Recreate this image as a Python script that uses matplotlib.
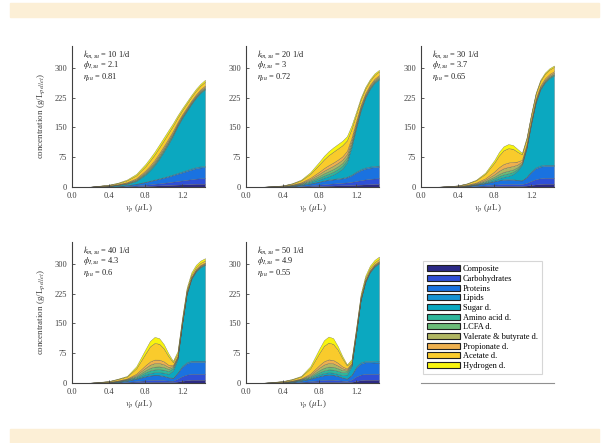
import numpy as np
import matplotlib
matplotlib.use("Agg")
import matplotlib.pyplot as plt
import matplotlib.patches as patches

plt.rcParams['font.family'] = ['Liberation Serif', 'DejaVu Serif']
plt.rcParams['mathtext.fontset'] = 'stix'

# ==========================================
# 1. Data
# ==========================================
vp = [0, 0.2, 0.4, 0.5, 0.6, 0.7, 0.8, 0.85, 0.9, 0.95, 1.0,
      1.05, 1.1, 1.15, 1.2, 1.25, 1.3, 1.35, 1.4, 1.45]

species = ['Composite', 'Carbohydrates', 'Proteins', 'Lipids', 'Sugar d.',
           'Amino acid d.', 'LCFA d.', 'Valerate & butyrate d.',
           'Propionate d.', 'Acetate d.', 'Hydrogen d.']

k_m = [10, 20, 30, 40, 50]
phi = [2.1, 3, 3.7, 4.3, 4.9]
eta = [0.81, 0.72, 0.65, 0.6, 0.55]

# one row per species, bottom to top
layers_k10 = [
    [0, 0, 0.2, 0.5, 1, 1.7, 2.5, 3, 3.5, 4, 4.5, 5, 5.5, 6, 6.5, 7, 7.5, 8, 8, 8],
    [0, 0, 0.3, 0.6, 1.2, 2, 3.2, 3.8, 4.5, 5.2, 6, 7, 8, 9, 10, 11, 12, 13, 14, 14],
    [0, 0.1, 0.6, 1.2, 2.2, 4, 6.5, 8, 9.5, 11, 12.5, 14, 16, 18, 20, 22, 24, 26, 27, 28],
    [0, 0, 0.1, 0.2, 0.4, 0.6, 1, 1.2, 1.4, 1.6, 1.8, 2, 2.2, 2.4, 2.6, 2.8, 3, 3, 3, 3],
    [0, 0.4, 1.3, 2.5, 3.2, 6.7, 17.8, 26, 36, 49, 64, 80, 97, 117, 134, 148, 162, 174, 185, 193],
    [0, 0, 0.3, 0.5, 1, 1.6, 2.4, 2.8, 3, 3.2, 3.2, 3.2, 2.9, 2.5, 2.2, 2.1, 2, 2, 2, 2],
    [0, 0, 0.3, 0.5, 1, 1.6, 2.4, 2.8, 3.1, 3.3, 3.3, 3.2, 2.9, 2.5, 2.3, 2.2, 2.1, 2.1, 2.1, 2.2],
    [0, 0.1, 0.4, 0.6, 1.1, 1.8, 2.7, 3.1, 3.4, 3.6, 3.6, 3.5, 3.2, 2.8, 2.5, 2.4, 2.3, 2.3, 2.3, 2.4],
    [0, 0.1, 0.4, 0.7, 1.3, 2.2, 3.2, 3.7, 4.1, 4.3, 4.3, 4.2, 3.8, 3.4, 3, 2.9, 2.8, 2.8, 2.8, 2.9],
    [0, 0.2, 1.4, 2.4, 4.4, 7.2, 10.8, 12.4, 13.6, 14.4, 14.4, 14, 12.8, 11.2, 10, 9.6, 9.2, 9.2, 9.2, 9.6],
    [0, 0.1, 0.7, 1.3, 2.2, 3.6, 5.5, 6.2, 6.8, 7.2, 7.2, 6.9, 6.4, 5.6, 5, 4.8, 4.6, 4.6, 4.6, 4.9],
]

layers_k20 = [
    [0, 0, 0.2, 0.5, 1, 1.7, 2.5, 3, 3.3, 3.6, 4, 4.3, 4.6, 5, 5.5, 6, 6.5, 7, 7.5, 8],
    [0, 0, 0.3, 0.7, 1.3, 2.3, 3.5, 4.2, 4.8, 5.3, 5.8, 6.3, 7, 8, 9.5, 11, 12.5, 13.5, 14, 14],
    [0, 0.1, 0.6, 1.3, 2.5, 4.5, 7, 8.5, 9.5, 10, 10.5, 11, 12.5, 16, 21, 25, 27, 28, 28.5, 29],
    [0, 0, 0.1, 0.2, 0.4, 0.7, 1.1, 1.3, 1.5, 1.6, 1.7, 1.8, 2, 2.3, 2.7, 3, 3, 3, 3, 3],
    [0, 0.4, 0.5, 0.8, 1.5, 3, 5, 6.5, 8, 11, 16, 23, 36, 69, 109, 147, 175, 195, 209, 217],
    [0, 0, 0.2, 0.6, 1.2, 2.5, 4.5, 5.5, 6.3, 6.8, 7, 7, 6.6, 5.5, 4.2, 3.3, 2.8, 2.5, 2.4, 2.4],
    [0, 0, 0.2, 0.6, 1.2, 2.5, 4.5, 5.5, 6.3, 6.8, 7, 7, 6.6, 5.5, 4.2, 3.3, 2.8, 2.5, 2.4, 2.4],
    [0, 0.1, 0.3, 0.7, 1.4, 3, 5.4, 6.6, 7.6, 8.2, 8.4, 8.4, 7.9, 6.6, 5, 4, 3.4, 3, 2.9, 2.9],
    [0, 0.1, 0.3, 0.7, 1.4, 3, 5.4, 6.6, 7.6, 8.2, 8.4, 8.4, 7.9, 6.6, 5, 4, 3.4, 3, 2.9, 2.9],
    [0, 0.2, 1, 2.4, 4.8, 10, 18, 22, 25.2, 27.2, 28, 28, 26.4, 22, 16.8, 13.2, 11.2, 10, 9.6, 9.6],
    [0, 0.1, 0.4, 1, 1.9, 4, 7.2, 8.8, 10, 10.9, 11.2, 11.2, 10.6, 8.8, 6.7, 5.3, 4.5, 4, 3.8, 3.8],
]

layers_k30 = [
    [0, 0, 0.2, 0.5, 1, 1.6, 2.3, 2.6, 2.8, 2.9, 2.9, 2.8, 2.8, 3.5, 5, 6.5, 7.5, 8, 8, 8],
    [0, 0, 0.3, 0.7, 1.4, 2.5, 3.8, 4.4, 4.8, 4.9, 4.8, 4.5, 4.5, 6.5, 10, 13, 14.5, 15, 15, 15],
    [0, 0.1, 0.6, 1.4, 2.7, 5, 8, 9.5, 10.5, 10.8, 10.5, 9.5, 9, 14, 22, 27, 29, 30, 30, 30],
    [0, 0, 0.1, 0.2, 0.4, 0.7, 1.1, 1.3, 1.4, 1.4, 1.3, 1.2, 1.2, 1.8, 2.5, 3, 3, 3, 3, 3],
    [0, 0.4, 0.4, 0.5, 0.8, 1.5, 3, 4.5, 6, 8, 12.5, 23, 38.5, 71, 118, 162, 191, 207, 218, 225],
    [0, 0, 0.2, 0.5, 1, 2, 4, 5.3, 6.2, 6.4, 5.9, 4.4, 2.4, 2.2, 2.2, 2.1, 2, 2, 2, 2],
    [0, 0, 0.2, 0.5, 1, 2, 4, 5.3, 6.2, 6.4, 5.9, 4.4, 2.4, 2.2, 2.2, 2.1, 2, 2, 2, 2],
    [0, 0.1, 0.3, 0.7, 1.4, 3, 6, 7.9, 9.2, 9.6, 8.9, 6.6, 3.6, 3.4, 3.2, 3.1, 3, 3, 3, 3],
    [0, 0.1, 0.4, 0.8, 1.7, 3.5, 7, 9.2, 10.8, 11.2, 10.4, 7.7, 4.2, 3.9, 3.8, 3.6, 3.5, 3.5, 3.5, 3.5],
    [0, 0.2, 1.1, 2.7, 5.4, 11.2, 22.5, 29.7, 34.6, 36, 33.3, 24.8, 13.5, 12.6, 12.2, 11.7, 11.2, 11.2, 11.2, 11.2],
    [0, 0.1, 0.3, 0.8, 1.6, 3.3, 6.5, 8.6, 10, 10.4, 9.6, 7.2, 3.9, 3.6, 3.5, 3.4, 3.3, 3.3, 3.3, 3.3],
]

layers_k40 = [
    [0, 0, 0.2, 0.5, 1, 1.7, 2.4, 2.7, 2.8, 2.8, 2.6, 2.3, 2.2, 3.5, 5.5, 7, 8, 8, 8, 8],
    [0, 0, 0.3, 0.7, 1.5, 2.8, 4.3, 4.9, 5.1, 5, 4.5, 3.8, 3.5, 7, 11.5, 14, 15, 15, 15, 15],
    [0, 0.1, 0.6, 1.4, 3, 5.8, 9.5, 11, 11.6, 11.3, 10, 7.8, 6.5, 14, 23, 28, 30, 30, 30, 30],
    [0, 0, 0.1, 0.2, 0.5, 0.9, 1.3, 1.5, 1.5, 1.5, 1.3, 1.1, 1, 2, 3, 3.3, 3.3, 3.3, 3.3, 3.3],
    [0, 0.3, 0.8, 1.2, 2, 1.8, 4.5, 4.9, 6, 6.4, 7.6, 8, 17.8, 33.5, 104, 171, 205, 224, 235, 241],
    [0, 0, 0.2, 0.6, 0.8, 2.3, 5, 6.5, 7.1, 7.5, 7.5, 7, 6, 2.5, 1.5, 1.4, 1.4, 1.4, 1.4, 1.4],
    [0, 0, 0.2, 0.6, 0.8, 2.3, 5, 6.5, 7.1, 7.2, 6.5, 5.5, 3.5, 2, 1.4, 1.4, 1.4, 1.4, 1.4, 1.4],
    [0, 0.1, 0.3, 0.7, 1, 2.9, 6.3, 8.1, 8.9, 8.6, 7.2, 5.2, 2.5, 2, 1.8, 1.7, 1.7, 1.7, 1.7, 1.7],
    [0, 0.1, 0.3, 0.7, 1, 2.9, 6.3, 8.1, 8.9, 8.6, 7.2, 5.2, 2.5, 2, 1.8, 1.7, 1.7, 1.7, 1.7, 1.7],
    [0, 0.3, 1.4, 3.3, 4.7, 13.6, 29.6, 38, 41.8, 39.8, 32.6, 22, 7, 6, 5.5, 5, 5, 5, 5, 5],
    [0, 0.1, 0.6, 1.1, 1.7, 5, 10.8, 13.8, 15.2, 14.3, 11, 7.1, 3.5, 5.5, 6, 5.8, 5.8, 5.8, 5.8, 5.8],
]

layers_k50 = [
    [0, 0, 0.2, 0.5, 1, 1.7, 2.4, 2.7, 2.8, 2.8, 2.6, 2.2, 2, 2.8, 5, 7, 8, 8, 8, 8],
    [0, 0, 0.3, 0.7, 1.5, 2.8, 4.4, 5, 5.3, 5.2, 4.6, 3.6, 3, 5.5, 11, 14, 15, 15, 15, 15],
    [0, 0.1, 0.6, 1.4, 3, 5.8, 9.8, 11.5, 12, 11.6, 10, 7.3, 5.5, 11, 22, 27.5, 29, 29, 28.5, 28],
    [0, 0, 0.1, 0.2, 0.5, 0.9, 1.3, 1.5, 1.5, 1.5, 1.3, 1, 0.9, 1.6, 3, 3.3, 3.3, 3.3, 3.3, 3.3],
    [0, 0.3, 0.8, 1.2, 2, 1.8, 4.1, 4.3, 5.4, 4.9, 4.5, 5.9, 9.6, 21.1, 82, 156, 198, 223, 238, 247],
    [0, 0, 0.2, 0.5, 0.8, 2.3, 5.2, 6.6, 7.2, 7.6, 7.6, 7, 6.5, 2.5, 1.4, 1.4, 1.4, 1.4, 1.4, 1.4],
    [0, 0, 0.2, 0.5, 0.8, 2.3, 5.2, 6.6, 7.2, 7.2, 6.5, 5.3, 3.8, 2, 1.4, 1.4, 1.4, 1.4, 1.4, 1.4],
    [0, 0.1, 0.3, 0.6, 1, 2.9, 6.5, 8.3, 9, 8.6, 7, 4.8, 2.6, 1.8, 1.7, 1.7, 1.7, 1.7, 1.7, 1.7],
    [0, 0.1, 0.3, 0.6, 1, 2.9, 6.5, 8.3, 9, 8.6, 7, 4.8, 2.6, 1.8, 1.7, 1.7, 1.7, 1.7, 1.7, 1.7],
    [0, 0.3, 1.4, 2.8, 4.7, 13.6, 30.5, 39, 42.3, 40.4, 32.9, 20.5, 7.5, 5, 5, 5, 5, 5, 5, 5],
    [0, 0.1, 0.6, 1.1, 1.7, 5, 11.1, 14.2, 15.3, 14.6, 9, 5.6, 3, 4.9, 5.8, 5.8, 5.8, 5.8, 5.8, 5.8],
]

panels = [layers_k10, layers_k20, layers_k30, layers_k40, layers_k50]

colors = ['#2c2a86', '#2f4fd6', '#1a72e0', '#1693d2', '#0ba8c0', '#2eb69b',
          '#6cbb78', '#b0b662', '#eeb04e', '#f9cb2c', '#f8f40f']

# ==========================================
# 2. Figure & background bands
# ==========================================
fig = plt.figure(figsize=(6.05, 4.43), dpi=100)
fig.patches.append(patches.Rectangle((10 / 605, 1 - 17 / 443), 589 / 605, 14 / 443,
                                     transform=fig.transFigure, color='#fcefd6', zorder=0))
fig.patches.append(patches.Rectangle((10 / 605, 0), 589 / 605, 14 / 443,
                                     transform=fig.transFigure, color='#fcefd6', zorder=0))

lefts = [72 / 605, 246 / 605, 421 / 605]
bottoms = [256 / 443, 60 / 443]
w, h = 133 / 605, 141 / 443

axes = []
for r in range(2):
    for c in range(3):
        axes.append(fig.add_axes([lefts[c], bottoms[r], w, h]))

# ==========================================
# 3. Stacked areas
# ==========================================
axis_col = '#404040'
for i, ax in enumerate(axes[:5]):
    ax.stackplot(vp, *panels[i], colors=colors, edgecolor='#505050', linewidth=0.2)
    ax.set_xlim(0, 1.45)
    ax.set_ylim(0, 355)
    ax.set_xticks([0, 0.4, 0.8, 1.2])
    ax.set_xticklabels(['0.0', '0.4', '0.8', '1.2'])
    ax.set_yticks([0, 75, 150, 225, 300])
    ax.tick_params(direction='in', length=2, width=0.6, labelsize=6,
                   colors=axis_col, pad=3.5)
    for s in ['top', 'right']:
        ax.spines[s].set_visible(False)
    for s in ['left', 'bottom']:
        ax.spines[s].set_color(axis_col)
        ax.spines[s].set_linewidth(0.8)
    ax.set_xlabel(r'$v_p$ ($\mu$L)', fontsize=6.5, color=axis_col, labelpad=2)
    if i % 3 == 0:
        ax.set_ylabel(r'concentration (g/L$_{pellet}$)', fontsize=6.5, color=axis_col, labelpad=5)
    ax.text(0.08, 0.985, r'$k_{m,su}$ = %d 1/d' % k_m[i], transform=ax.transAxes,
            fontsize=6, va='top', color='#202020')
    ax.text(0.08, 0.905, r'$\phi_{I,su}$ = %s' % phi[i], transform=ax.transAxes,
            fontsize=6, va='top', color='#202020')
    ax.text(0.08, 0.82, r'$\eta_{su}$ = %s' % eta[i], transform=ax.transAxes,
            fontsize=6, va='top', color='#202020')

# ==========================================
# 4. Legend in the empty sixth slot
# ==========================================
ax6 = axes[5]
ax6.set_xticks([])
ax6.set_yticks([])
for s in ['top', 'right', 'left']:
    ax6.spines[s].set_visible(False)
ax6.spines['bottom'].set_color('#909090')
ax6.patch.set_alpha(0)

handles = [patches.Patch(facecolor=c, edgecolor='#202020', linewidth=0.8) for c in colors]
leg = ax6.legend(handles, species, loc='upper left', bbox_to_anchor=(0.015, 0.865),
                 fontsize=6, frameon=True, fancybox=False, handlelength=3.9,
                 handleheight=0.75, labelspacing=0.2, handletextpad=0.4,
                 borderpad=0.5, borderaxespad=0)
leg.get_frame().set_edgecolor('#cccccc')
leg.get_frame().set_linewidth(0.8)

fig.savefig('out.png', dpi=100)
